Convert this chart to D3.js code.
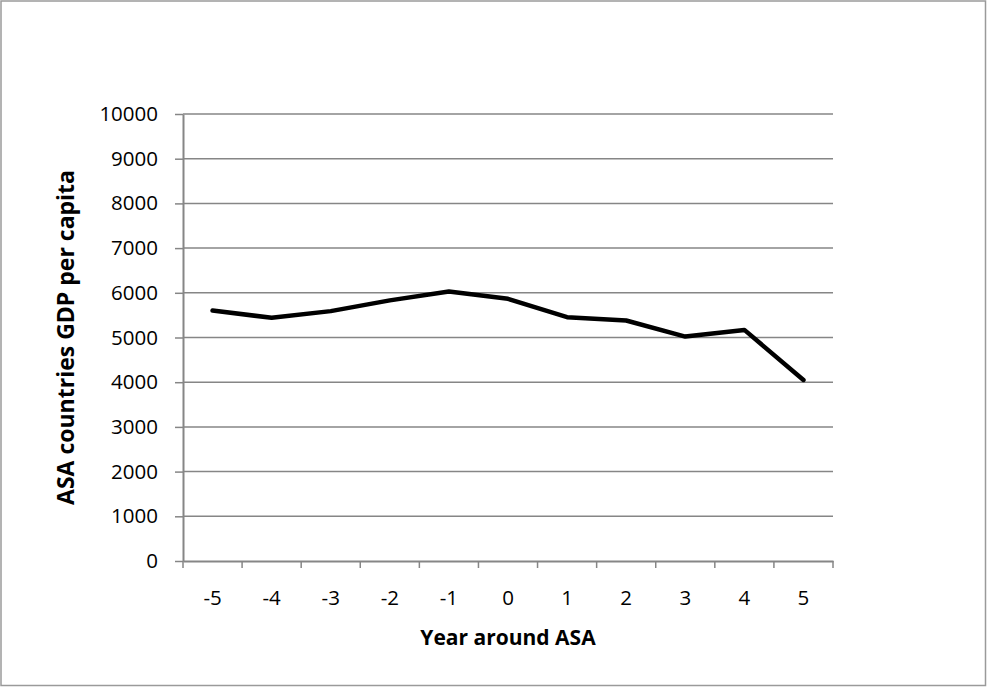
<!DOCTYPE html>
<html>
<head>
<meta charset="utf-8">
<script src="https://cdn.jsdelivr.net/npm/d3@7"></script>
<style>
  body { margin: 0; background: #fff; }
  text { font-family: "Open Sans", sans-serif; fill: #000; }
</style>
</head>
<body>
<div id="wrapper"></div>
<script>
const years = ['-5', '-4', '-3', '-2', '-1', '0', '1', '2', '3', '4', '5']
const gdpPerCapita = [5605, 5440, 5590, 5830, 6030, 5865, 5455, 5380, 5020, 5170, 4050]
const yTicks = [0, 1000, 2000, 3000, 4000, 5000, 6000, 7000, 8000, 9000, 10000]

const data = years.map((year, i) => ({ year, value: gdpPerCapita[i] }))
const xAccessor = d => d.year
const yAccessor = d => d.value

const dimensions = {
  width: 987,
  height: 687,
  margins: {
    top: 114,
    right: 154,
    bottom: 126,
    left: 183,
  }
}
dimensions.boundedWidth = dimensions.width
  - dimensions.margins.left
  - dimensions.margins.right
dimensions.boundedHeight = dimensions.height
  - dimensions.margins.top
  - dimensions.margins.bottom

const wrapper = d3.select('#wrapper')
  .append('svg')
    .attr('width', dimensions.width)
    .attr('height', dimensions.height)

// outer chart border
wrapper.append('rect')
    .attr('x', 1)
    .attr('y', 1)
    .attr('width', dimensions.width - 2.5)
    .attr('height', dimensions.height - 2.5)
    .attr('fill', 'none')
    .attr('stroke', '#9a9a9a')
    .attr('stroke-width', 1.5)

const bounds = wrapper.append('g')
    .attr('transform', `translate(${dimensions.margins.left}, ${dimensions.margins.top})`)

const xScale = d3.scaleBand()
    .domain(years)
    .range([0, dimensions.boundedWidth])
    .padding(0)

const yScale = d3.scaleLinear()
    .domain([0, 10000])
    .range([dimensions.boundedHeight, 0])

// gridlines
bounds.append('g')
  .selectAll('line')
  .data(yTicks.slice(1))
  .join('line')
    .attr('x1', 0)
    .attr('x2', dimensions.boundedWidth)
    .attr('y1', d => yScale(d))
    .attr('y2', d => yScale(d))
    .attr('stroke', '#868686')
    .attr('stroke-width', 1.5)

// y axis
const yAxis = bounds.append('g')
    .call(d3.axisLeft(yScale).tickValues(yTicks).tickFormat(d3.format('d'))
      .tickSize(8).tickPadding(17).tickSizeOuter(0))
yAxis.select('.domain').attr('stroke', '#868686').attr('stroke-width', 2)
yAxis.selectAll('.tick line').attr('stroke', '#868686').attr('stroke-width', 1.5)
yAxis.selectAll('.tick text')
    .style('font-family', '"Open Sans", sans-serif')
    .style('font-size', '20.5px')
    .attr('fill', '#000')

// x axis
const xAxis = bounds.append('g')
    .attr('transform', `translate(0, ${dimensions.boundedHeight})`)
    .call(d3.axisBottom(xScale).tickSize(0).tickPadding(29).tickSizeOuter(0))
xAxis.select('.domain').attr('stroke', '#868686').attr('stroke-width', 2)
xAxis.selectAll('.tick text')
    .style('font-family', '"Open Sans", sans-serif')
    .style('font-size', '20.5px')
    .attr('fill', '#000')

const boundaries = years.map(y => xScale(y)).concat([dimensions.boundedWidth])
xAxis.append('g')
  .selectAll('line')
  .data(boundaries)
  .join('line')
    .attr('x1', d => d)
    .attr('x2', d => d)
    .attr('y1', 0)
    .attr('y2', 7)
    .attr('stroke', '#868686')
    .attr('stroke-width', 1.5)

// line
const lineGenerator = d3.line()
    .x(d => xScale(xAccessor(d)) + xScale.bandwidth() / 2)
    .y(d => yScale(yAccessor(d)))

bounds.append('path')
    .attr('d', lineGenerator(data))
    .attr('fill', 'none')
    .attr('stroke', '#000')
    .attr('stroke-width', 4.5)
    .attr('stroke-linejoin', 'round')
    .attr('stroke-linecap', 'round')

// axis titles
wrapper.append('text')
    .attr('x', dimensions.margins.left + dimensions.boundedWidth / 2)
    .attr('y', 645)
    .attr('text-anchor', 'middle')
    .style('font-size', '21px')
    .style('font-weight', 'bold')
    .text('Year around ASA')

wrapper.append('text')
    .attr('transform', `translate(74, ${dimensions.margins.top + dimensions.boundedHeight / 2}) rotate(-90)`)
    .attr('text-anchor', 'middle')
    .style('font-size', '23px')
    .style('font-weight', 'bold')
    .text('ASA countries GDP per capita')
</script>
</body>
</html>
